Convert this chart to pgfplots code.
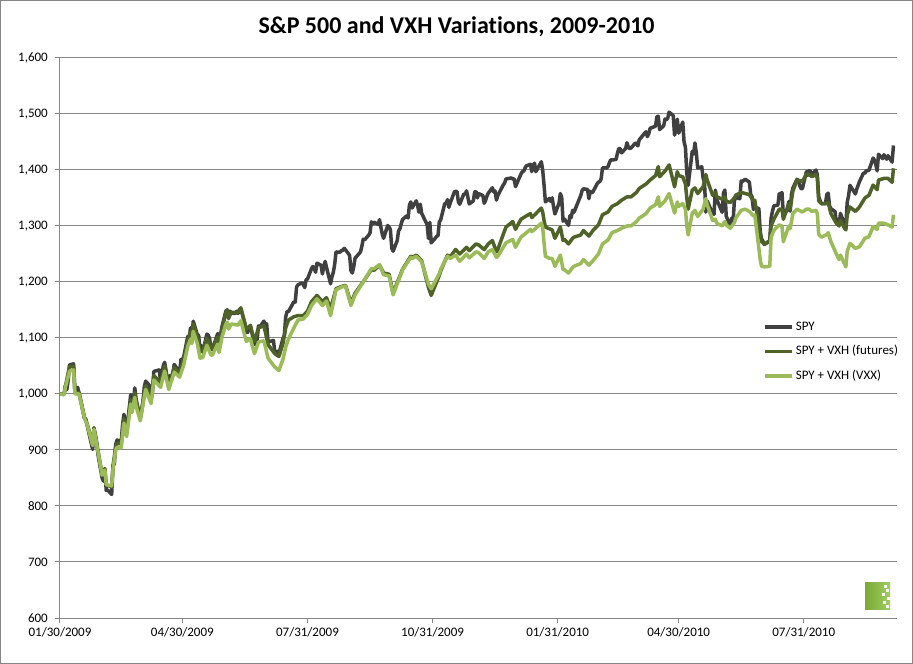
\documentclass[border=0pt]{standalone}
\usepackage{pgfplots}
\pgfplotsset{compat=1.18}
\usepackage{fontspec}
\setmainfont[Ligatures=NoCommon]{Carlito}
\definecolor{spy}{HTML}{404040}
\definecolor{fut}{HTML}{4F6228}
\definecolor{vxx}{HTML}{9BBB59}
\definecolor{gridc}{HTML}{868686}
\begin{document}
\begin{tikzpicture}
\path[use as bounding box] (-60bp,-46bp) rectangle (853bp,618bp);
\fill[white] (-60bp,-46bp) rectangle (853bp,618bp);
\draw[gridc, line width=1bp] (-59.5bp,-45.5bp) rectangle (852.5bp,617.5bp);
\begin{axis}[
  at={(0,0)}, anchor=south west,
  scale only axis, width=837bp, height=560bp,
  xmin=0, xmax=615.6, ymin=600, ymax=1600,
  axis lines=left, axis line style={gridc, line width=1bp, -},
  ytick={600,700,800,900,1000,1100,1200,1300,1400,1500,1600},
  yticklabels={600,700,800,900,{1,000},{1,100},{1,200},{1,300},{1,400},{1,500},{1,600}},
  xtick={0,90,182,274,366,455,547},
  xticklabels={01/30/2009,04/30/2009,07/31/2009,10/31/2009,01/31/2010,04/30/2010,07/31/2010},
  ymajorgrids, grid style={gridc, line width=1bp},
  tick align=outside, major tick length=5bp, tick style={gridc, line width=1bp},
  ticklabel style={font=\fontsize{13bp}{15bp}\selectfont, text=black},
  yticklabel style={anchor=east, inner sep=0pt, xshift=-7bp},
  xticklabel style={anchor=north, inner sep=0pt, yshift=-4bp},
  legend style={at={(0.840,0.534)}, anchor=north west, draw=none, fill=none,
    font=\fontsize{13bp}{15bp}\selectfont, inner sep=0pt, row sep=8.5bp,
    nodes={inner sep=2bp, text height=9bp, text depth=3bp}},
  legend cell align=left,
  legend image code/.code={\draw[#1, line width=3.5bp] (0bp,0bp) -- (27bp,0bp);},
  every axis plot/.append style={no markers, line width=3.5bp, line join=round},
  clip=false,
]
\addplot[spy] coordinates {
(0,1000)(3,999.5)(4,1015.4)(5,1007.9)(6,1024.3)(7,1051.9)(10,1053.8)(11,1002.0)(12,1010.0)(13,1011.8)(14,1001.8)(18,956.3)(19,955.4)(20,944.0)(21,933.2)(24,901.0)(25,937.1)(26,927.2)(27,912.6)(28,891.2)(31,849.7)(32,844.3)(33,864.4)(34,827.6)(35,828.6)(38,820.6)(39,872.8)(40,875.0)(41,910.6)(42,917.8)(45,914.6)(46,944.0)(47,963.7)(48,951.2)(49,932.5)(52,998.7)(53,978.3)(54,987.8)(55,1010.8)(56,990.3)(59,956.1)(60,968.6)(61,984.7)(62,1013.0)(63,1023.0)(66,1014.6)(67,990.4)(68,1002.1)(69,1040.3)(73,1043.0)(74,1022.1)(75,1034.9)(76,1051.0)(77,1056.6)(80,1011.5)(81,1033.0)(82,1025.1)(83,1035.3)(84,1052.7)(87,1042.2)(88,1039.3)(89,1061.8)(90,1060.8)(91,1066.8)(94,1103.1)(95,1098.9)(96,1118.1)(97,1103.4)(98,1130.0)(101,1105.8)(102,1104.7)(103,1075.1)(104,1086.3)(105,1074.1)(108,1106.9)(109,1105.0)(110,1099.4)(111,1081.0)(112,1079.4)(116,1108.0)(117,1087.0)(118,1103.8)(119,1118.9)(122,1148.1)(123,1150.4)(124,1134.6)(125,1147.7)(126,1144.8)(129,1143.8)(130,1147.8)(131,1143.8)(132,1150.9)(133,1152.6)(136,1125.3)(137,1111.1)(138,1109.6)(139,1119.0)(140,1122.5)(143,1088.3)(144,1090.8)(145,1098.0)(146,1121.6)(147,1120.0)(150,1130.2)(151,1120.6)(152,1125.5)(153,1092.7)(157,1095.7)(158,1074.2)(159,1072.4)(160,1076.3)(161,1072.0)(164,1098.9)(165,1104.7)(166,1137.5)(167,1147.4)(168,1147.0)(171,1160.3)(172,1164.6)(173,1164.0)(174,1191.2)(175,1194.8)(178,1198.5)(179,1195.4)(180,1190.0)(181,1204.2)(182,1205.2)(185,1224.0)(186,1227.7)(187,1224.2)(188,1217.4)(189,1233.7)(192,1229.8)(193,1214.3)(194,1228.3)(195,1236.8)(196,1226.3)(199,1196.8)(200,1209.0)(201,1217.3)(202,1230.7)(203,1253.6)(206,1253.3)(207,1256.3)(208,1256.5)(209,1260.1)(210,1257.5)(213,1247.6)(214,1220.1)(215,1216.1)(216,1226.5)(217,1242.5)(221,1253.6)(222,1263.4)(223,1276.6)(224,1275.2)(227,1283.6)(228,1287.7)(229,1307.5)(230,1303.5)(231,1306.9)(234,1302.7)(235,1311.3)(236,1298.1)(237,1285.8)(238,1278.0)(241,1300.9)(242,1298.0)(243,1293.7)(244,1260.4)(245,1255.0)(248,1273.8)(249,1291.3)(250,1294.8)(251,1304.5)(252,1311.9)(255,1318.0)(256,1314.3)(257,1337.4)(258,1343.0)(259,1332.2)(262,1345.0)(263,1336.6)(264,1324.8)(265,1338.9)(266,1322.7)(269,1307.4)(270,1303.1)(271,1277.7)(272,1306.5)(273,1269.9)(276,1278.3)(277,1281.4)(278,1282.8)(279,1307.5)(280,1310.9)(283,1340.4)(284,1340.3)(285,1347.1)(286,1333.3)(287,1340.9)(290,1360.7)(291,1362.0)(292,1361.4)(293,1343.2)(294,1338.8)(297,1357.3)(298,1356.6)(299,1362.8)(301,1339.4)(304,1344.7)(305,1361.0)(306,1361.5)(307,1350.2)(308,1357.6)(311,1354.4)(312,1340.6)(313,1345.6)(314,1353.5)(315,1358.6)(318,1368.3)(319,1360.8)(320,1362.4)(321,1346.3)(322,1354.2)(325,1368.6)(326,1373.5)(327,1376.7)(328,1384.0)(332,1385.8)(333,1383.9)(334,1384.2)(335,1370.3)(339,1392.6)(340,1397.0)(341,1397.8)(342,1403.5)(343,1407.4)(346,1410.2)(347,1397.0)(348,1408.7)(349,1412.2)(350,1397.0)(354,1414.8)(355,1399.9)(356,1373.4)(357,1343.0)(360,1349.3)(361,1343.7)(362,1350.3)(363,1334.4)(364,1321.5)(367,1340.5)(368,1358.0)(369,1350.6)(370,1308.6)(371,1312.5)(374,1301.1)(375,1318.1)(376,1315.2)(377,1328.0)(378,1324.5)(382,1348.6)(383,1354.4)(384,1363.4)(385,1366.4)(388,1365.2)(389,1348.8)(390,1361.9)(391,1359.1)(392,1361.1)(395,1375.2)(396,1378.5)(397,1379.1)(398,1384.3)(399,1403.6)(402,1403.6)(403,1406.0)(404,1412.4)(405,1418.1)(406,1417.9)(409,1418.9)(410,1430.0)(411,1438.4)(412,1438.0)(413,1430.6)(416,1438.3)(417,1448.6)(418,1440.8)(419,1438.4)(420,1439.3)(423,1447.7)(424,1447.8)(425,1443.1)(426,1453.9)(430,1465.7)(431,1468.2)(432,1459.6)(433,1464.6)(434,1474.4)(437,1477.3)(438,1478.4)(439,1494.9)(440,1496.2)(441,1472.2)(444,1479.0)(445,1491.0)(446,1489.5)(447,1492.9)(448,1503.3)(451,1497.2)(452,1462.2)(453,1471.7)(454,1490.8)(455,1465.8)(458,1485.5)(459,1450.1)(460,1440.6)(461,1394.0)(462,1372.6)(465,1433.4)(466,1428.6)(467,1448.3)(468,1430.8)(469,1403.8)(472,1405.6)(473,1385.7)(474,1378.6)(475,1324.9)(476,1344.8)(479,1327.6)(480,1328.1)(481,1320.7)(482,1364.1)(483,1347.4)(487,1324.5)(488,1358.8)(489,1364.3)(490,1317.6)(493,1299.9)(494,1314.2)(495,1306.4)(496,1345.0)(497,1351.0)(500,1348.7)(501,1380.4)(502,1379.7)(503,1381.5)(504,1383.5)(507,1378.4)(508,1356.3)(509,1352.3)(510,1329.6)(511,1333.6)(514,1331.1)(515,1289.9)(516,1276.9)(517,1272.8)(518,1266.9)(522,1274.0)(523,1314.1)(524,1326.5)(525,1336.0)(528,1337.3)(529,1357.9)(530,1357.8)(531,1359.5)(532,1320.3)(535,1328.5)(536,1343.8)(537,1326.6)(538,1356.6)(539,1367.6)(542,1383.3)(543,1381.9)(544,1372.3)(545,1366.7)(546,1366.6)(549,1397.2)(550,1390.5)(551,1399.0)(552,1397.3)(553,1391.9)(556,1399.9)(557,1391.6)(558,1352.5)(559,1345.3)(560,1339.8)(563,1340.2)(564,1356.6)(565,1358.7)(566,1335.7)(567,1330.9)(570,1325.8)(571,1306.6)(572,1311.0)(573,1301.0)(574,1322.5)(577,1303.2)(578,1303.8)(579,1342.3)(580,1354.6)(581,1372.6)(585,1357.2)(586,1366.0)(587,1372.7)(588,1379.3)(591,1394.9)(592,1394.0)(593,1399.0)(594,1398.6)(595,1399.6)(598,1421.2)(599,1417.6)(600,1410.1)(601,1398.4)(602,1428.1)(605,1420.3)(606,1427.2)(607,1423.6)(608,1419.2)(609,1425.5)(612,1414.1)(613,1443.8)
};
\addlegendentry{SPY}
\addplot[fut] coordinates {
(0,1000)(3,999)(4,1014)(7,1049)(10,1050)(11,1003)(14,1003)(18,958)(20,946)(21,938)(24,910)(25,940)(28,898)(31,856)(33,867)(34,838)(38,834)(39,872)(41,906)(42,912)(45,911)(47,956)(49,930)(52,990)(53,973)(55,1002)(56,985)(59,958)(63,1015)(67,990)(69,1033)(74,1020)(77,1050)(80,1015)(84,1047)(88,1038)(91,1062)(94,1095)(96,1110)(97,1100)(98,1125)(101,1102)(103,1077)(105,1077)(108,1100)(111,1082)(112,1081)(116,1102)(117,1086)(119,1114)(122,1145)(123,1150)(124,1136)(126,1146)(131,1145)(133,1154)(137,1116)(140,1122)(143,1094)(146,1118)(150,1122)(153,1088)(158,1072)(161,1067)(164,1090)(166,1118)(168,1132)(172,1138)(175,1140)(179,1140)(182,1148)(185,1165)(189,1176)(193,1165)(196,1172)(199,1152)(203,1188)(207,1192)(210,1194)(214,1162)(217,1180)(224,1204)(229,1222)(231,1221)(235,1230)(238,1216)(242,1214)(245,1180)(249,1205)(252,1223)(258,1246)(259,1244)(262,1248)(266,1238)(271,1190)(273,1176)(279,1212)(280,1220)(285,1248)(287,1245)(291,1258)(294,1250)(299,1262)(301,1256)(306,1268)(308,1266)(312,1258)(315,1268)(318,1274)(321,1254)(322,1258)(326,1285)(328,1298)(333,1308)(335,1294)(339,1312)(343,1318)(346,1322)(347,1315)(350,1322)(354,1332)(355,1325)(356,1310)(357,1298)(360,1295)(362,1293)(364,1278)(368,1298)(370,1274)(371,1276)(374,1268)(377,1278)(378,1280)(383,1284)(385,1292)(389,1282)(392,1292)(396,1302)(399,1320)(403,1325)(406,1335)(410,1340)(413,1346)(417,1352)(420,1352)(424,1360)(426,1367)(431,1375)(434,1382)(438,1390)(440,1406)(441,1388)(445,1398)(448,1409)(452,1370)(454,1397)(455,1390)(458,1388)(460,1375)(461,1350)(462,1330)(465,1364)(467,1368)(469,1358)(473,1370)(475,1392)(476,1382)(480,1355)(482,1360)(483,1352)(487,1348)(489,1352)(490,1344)(493,1342)(496,1350)(497,1355)(501,1360)(504,1358)(507,1356)(510,1345)(511,1346)(515,1285)(516,1272)(518,1268)(522,1272)(523,1300)(525,1312)(529,1330)(531,1330)(532,1312)(536,1340)(537,1330)(539,1362)(542,1382)(546,1380)(549,1392)(551,1392)(553,1388)(556,1392)(557,1385)(558,1345)(560,1340)(564,1340)(565,1342)(567,1322)(571,1305)(573,1300)(574,1310)(577,1296)(578,1293)(579,1320)(581,1334)(585,1326)(588,1334)(592,1350)(595,1355)(598,1373)(601,1365)(602,1382)(606,1385)(609,1385)(612,1378)(613,1403)
};
\addlegendentry{SPY + VXH (futures)}
\addplot[vxx] coordinates {
(0,1000)(3,999)(4,1012)(7,1041)(10,1043)(11,1000)(14,1000)(18,957)(20,945)(21,936)(24,908)(25,937)(28,896)(31,855)(33,864)(34,838)(38,836)(39,866)(41,900)(42,905)(45,904)(47,948)(49,924)(52,982)(53,967)(55,994)(56,978)(59,952)(63,1008)(67,983)(69,1025)(74,1012)(77,1041)(80,1008)(84,1039)(88,1030)(91,1052)(94,1085)(96,1098)(97,1090)(98,1112)(101,1090)(103,1064)(105,1065)(108,1087)(111,1070)(112,1069)(116,1089)(117,1074)(119,1100)(122,1125)(123,1128)(124,1116)(126,1125)(131,1123)(133,1131)(137,1094)(140,1099)(143,1072)(146,1093)(150,1095)(153,1064)(158,1048)(161,1042)(164,1062)(166,1084)(168,1098)(172,1118)(175,1132)(179,1134)(182,1142)(185,1158)(189,1170)(193,1158)(196,1166)(199,1140)(203,1186)(207,1191)(210,1193)(214,1158)(217,1177)(224,1204)(229,1224)(231,1224)(235,1231)(238,1213)(242,1211)(245,1177)(249,1203)(252,1222)(258,1244)(259,1242)(262,1246)(266,1236)(271,1196)(273,1188)(279,1215)(280,1223)(285,1246)(287,1242)(291,1248)(294,1237)(299,1250)(301,1243)(306,1254)(308,1252)(312,1242)(315,1254)(318,1258)(321,1244)(322,1246)(326,1262)(328,1270)(333,1276)(335,1262)(339,1280)(343,1288)(346,1294)(347,1290)(350,1296)(354,1305)(355,1298)(356,1270)(357,1246)(360,1242)(362,1242)(364,1228)(368,1248)(370,1222)(371,1222)(374,1216)(377,1226)(378,1228)(383,1233)(385,1240)(389,1230)(392,1238)(396,1250)(399,1268)(403,1275)(406,1288)(410,1292)(413,1296)(417,1300)(420,1300)(424,1308)(426,1314)(431,1322)(434,1332)(438,1338)(440,1352)(441,1335)(445,1345)(448,1358)(452,1323)(454,1343)(455,1335)(458,1340)(460,1330)(461,1300)(462,1284)(465,1323)(467,1328)(469,1317)(473,1330)(475,1349)(476,1338)(480,1310)(482,1312)(483,1305)(487,1300)(489,1308)(490,1302)(493,1296)(496,1306)(497,1314)(501,1328)(504,1330)(507,1326)(510,1318)(511,1320)(515,1240)(516,1228)(518,1227)(522,1228)(523,1280)(525,1292)(529,1302)(531,1300)(532,1272)(536,1300)(537,1295)(539,1322)(542,1330)(546,1325)(549,1330)(551,1330)(553,1326)(556,1328)(557,1322)(558,1285)(560,1280)(564,1285)(565,1288)(567,1272)(571,1250)(573,1240)(574,1248)(577,1232)(578,1227)(579,1255)(581,1269)(585,1260)(588,1263)(592,1278)(595,1281)(598,1299)(601,1294)(602,1305)(606,1305)(609,1302)(612,1298)(613,1320)
};
\addlegendentry{SPY + VXH (VXX)}
\end{axis}
\node[font=\fontsize{24bp}{28bp}\selectfont\bfseries] at (396.5bp,591bp) {S\&P 500 and VXH Variations, 2009-2010};
\shade[left color={rgb,255:red,120;green,170;blue,50}, right color={rgb,255:red,160;green,205;blue,100}] (805bp,8bp) rectangle (830bp,35bp);
\foreach \yy/\xx in {10/826,14/823,18/827,22/822,26/826,30/824}{
  \fill[white] (\xx bp,\yy bp) rectangle ++(3bp,3bp);
}
\end{tikzpicture}
\end{document}
